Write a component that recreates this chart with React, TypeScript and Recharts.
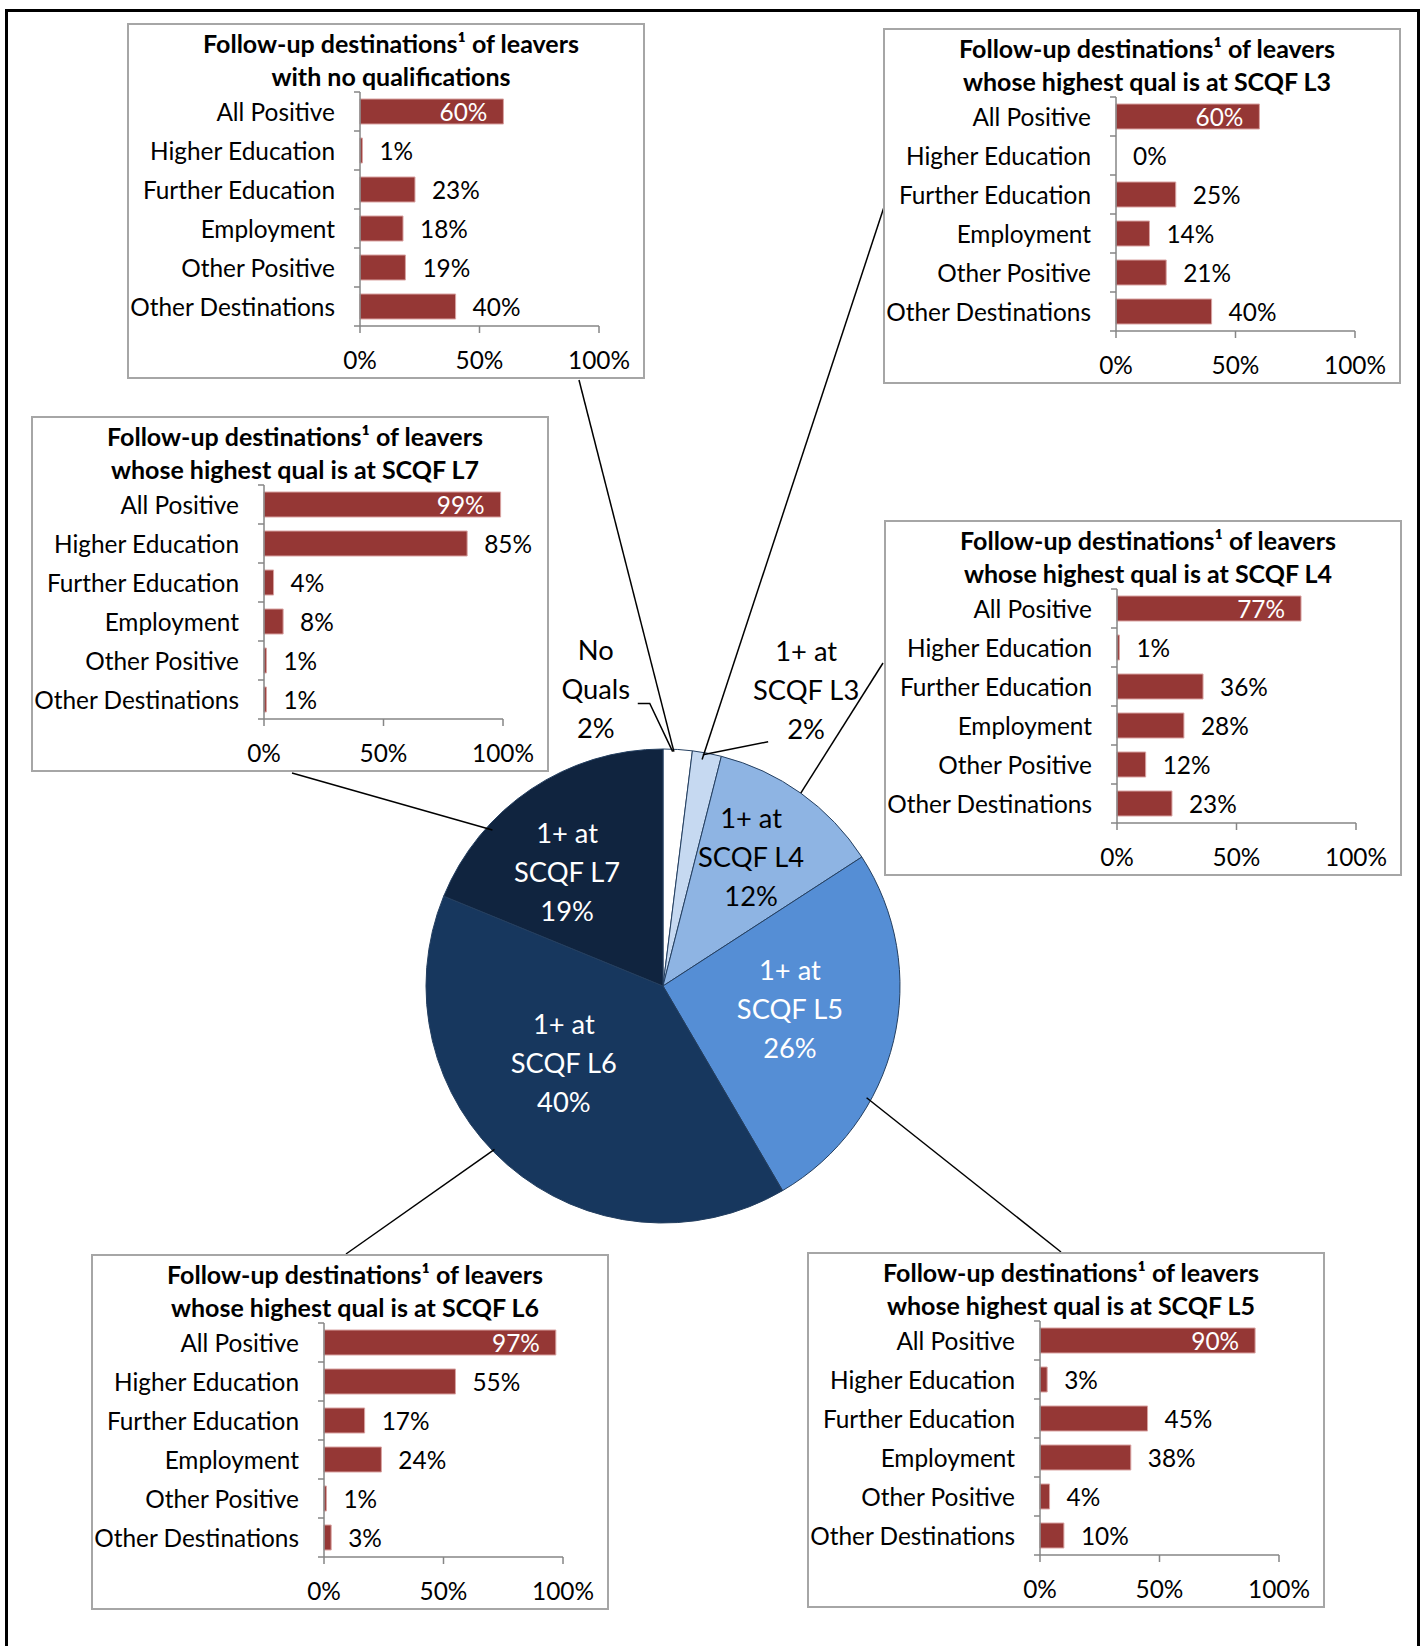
import React from "react";
import { BarChart, Bar, XAxis, YAxis, LabelList, PieChart, Pie, Cell } from "recharts";

// ---- data ----
const categories = [
  "All Positive",
  "Higher Education",
  "Further Education",
  "Employment",
  "Other Positive",
  "Other Destinations",
];

const noQualsValues = [60, 1, 23, 18, 19, 40];
const l3Values = [60, 0, 25, 14, 21, 40];
const l4Values = [77, 1, 36, 28, 12, 23];
const l5Values = [90, 3, 45, 38, 4, 10];
const l6Values = [97, 55, 17, 24, 1, 3];
const l7Values = [99, 85, 4, 8, 1, 1];

const xTicks = [0, 50, 100];

const titleLine1 = "Follow-up destinations\u00b9 of leavers";
const subtitles = {
  nq: "with no qualifications",
  l3: "whose highest qual is at SCQF L3",
  l4: "whose highest qual is at SCQF L4",
  l5: "whose highest qual is at SCQF L5",
  l6: "whose highest qual is at SCQF L6",
  l7: "whose highest qual is at SCQF L7",
};

const pieNames = ["No Quals", "1+ at SCQF L3", "1+ at SCQF L4", "1+ at SCQF L5", "1+ at SCQF L6", "1+ at SCQF L7"];
const pieLabelLines = [["No", "Quals"], ["1+ at", "SCQF L3"], ["1+ at", "SCQF L4"], ["1+ at", "SCQF L5"], ["1+ at", "SCQF L6"], ["1+ at", "SCQF L7"]];
const pieValues = [2, 2, 12, 26, 40, 19];
const pieColors = ["#ffffff", "#c6d9f1", "#8eb4e3", "#558ed5", "#17375e", "#10243f"];

// ---- layout ----
const FONT = "Lato, 'Open Sans', sans-serif";
const BOX_W = 518;
const BOX_H = 356;
const PLOT_TOP = 69;
const PLOT_BOTTOM = 303;
const AXIS_LEFT = 233;
const PLOT_RIGHT = 472;
const BAND = (PLOT_BOTTOM - PLOT_TOP) / categories.length;
const LABEL_SIZE = 24.4;
const PIE_FONT = 27.3;

const boxes = [
  { key: "nq", left: 127, top: 23, values: noQualsValues },
  { key: "l3", left: 883, top: 28, values: l3Values },
  { key: "l7", left: 31, top: 416, values: l7Values },
  { key: "l4", left: 884, top: 520, values: l4Values },
  { key: "l6", left: 91, top: 1254, values: l6Values },
  { key: "l5", left: 807, top: 1252, values: l5Values },
];

// label/connector placement per slice, relative to the slice mid angle
const pieLayout = [
  { color: "#000", labelDA: -16.3, labelRF: 305 / 237, connDA: -0.9, connRF: 0.99, box: [579, 380], leader: [[42, 15], [54, 15]], leaderDA: -1.2 },
  { color: "#000", labelDA: 15.1, labelRF: 329 / 237, connDA: -0.9, connRF: 0.97, box: [884, 207], leader: [[-38, 52]], leaderDA: -0.9 },
  { color: "#000", labelDA: -1.5, labelRF: 157 / 237, connDA: -0.1, connRF: 1.0, box: [883, 663] },
  { color: "#fff", labelDA: -3.1, labelRF: 129 / 237, connDA: 15.4, connRF: 0.98, box: [1061, 1252] },
  { color: "#fff", labelDA: 11.5, labelRF: 125 / 237, connDA: 4.9, connRF: 0.99, box: [346, 1254] },
  { color: "#fff", labelDA: -6.2, labelRF: 149 / 237, connDA: -13.7, connRF: 0.975, box: [292, 773] },
];

const rad = (d: number) => (d * Math.PI) / 180;

function CategoryTick(props: any) {
  const { x, y, payload, index } = props;
  const ax = x + 25;
  return (
    <g>
      <text x={x} y={y} textAnchor="end" dominantBaseline="central" fontSize={LABEL_SIZE} fontFamily={FONT} fill="#000">
        {payload.value}
      </text>
      <line x1={ax - 6} x2={ax} y1={y - BAND / 2} y2={y - BAND / 2} stroke="#868686" strokeWidth={1.5} />
      {index === categories.length - 1 && (
        <line x1={ax - 6} x2={ax} y1={y + BAND / 2} y2={y + BAND / 2} stroke="#868686" strokeWidth={1.5} />
      )}
    </g>
  );
}

function ValueLabel(props: any) {
  const { x, y, width, height, value, index } = props;
  const inside = index === 0;
  const w = value === 0 ? 0 : Number(width);
  return (
    <text
      x={inside ? x + w - 16 : x + w + 17}
      y={y + height / 2}
      textAnchor={inside ? "end" : "start"}
      dominantBaseline="central"
      fontSize={LABEL_SIZE}
      fontFamily={FONT}
      fill={inside ? "#fff" : "#000"}
    >
      {`${value}%`}
    </text>
  );
}

function DestinationBox({ left, top, values, subtitle }: any) {
  const data = categories.map((name, i) => ({ name, value: values[i] }));
  return (
    <div style={{ position: "absolute", left, top, width: BOX_W, height: BOX_H, background: "#fff" }}>
      <div style={{ position: "absolute", inset: 0, border: "2px solid #a6a6a6", boxSizing: "border-box" }} />
      <div
        style={{
          position: "absolute",
          left: 5,
          top: 4,
          width: BOX_W,
          textAlign: "center",
          fontFamily: FONT,
          fontWeight: 700,
          fontSize: 25,
          lineHeight: "33px",
          color: "#000",
        }}
      >
        <div>{titleLine1}</div>
        <div>{subtitle}</div>
      </div>
      <div style={{ position: "absolute", left: 0, top: 0 }}>
        <BarChart
          width={BOX_W}
          height={BOX_H}
          data={data}
          layout="vertical"
          margin={{ top: PLOT_TOP, right: BOX_W - PLOT_RIGHT, bottom: 13, left: 0 }}
        >
          <XAxis
            type="number"
            domain={[0, 100]}
            ticks={xTicks}
            tickFormatter={(v) => `${v}%`}
            axisLine={{ stroke: "#868686", strokeWidth: 1.5 }}
            tickLine={{ stroke: "#868686", strokeWidth: 1.5 }}
            tickSize={7}
            tickMargin={19}
            height={BOX_H - PLOT_BOTTOM - 13}
            tick={{ fontSize: LABEL_SIZE, fontFamily: FONT, fill: "#000" }}
            interval={0}
          />
          <YAxis
            type="category"
            dataKey="name"
            width={AXIS_LEFT}
            axisLine={{ stroke: "#868686", strokeWidth: 1.5 }}
            tickLine={false}
            tickSize={0}
            tickMargin={25}
            interval={0}
            tick={(p: any) => <CategoryTick {...p} />}
          />
          <Bar dataKey="value" fill="#953735" strokeWidth={1} barSize={25} minPointSize={0.01} isAnimationActive={false}>
            {data.map((d) => (
              <Cell key={d.name} fill="#953735" stroke={d.value === 0 ? "none" : "#d9a3a2"} />
            ))}
            <LabelList dataKey="value" content={(p: any) => <ValueLabel {...p} />} />
          </Bar>
        </BarChart>
      </div>
    </div>
  );
}

function renderPieLabel(props: any) {
  const cx = Number(props.cx);
  const cy = Number(props.cy);
  const R = Number(props.outerRadius);
  const index = props.index;
  const lay = pieLayout[index];
  const mid = 90 - Number(props.midAngle);
  const polar = (deg: number, r: number) => [cx + r * Math.sin(rad(deg)), cy - r * Math.cos(rad(deg))];
  const [lx, ly] = polar(mid + lay.labelDA, R * lay.labelRF);
  const [ex, ey] = polar(mid + lay.connDA, R * lay.connRF);
  const lines = [...pieLabelLines[index], `${pieValues[index]}%`];
  let leaderPts = "";
  if (lay.leader) {
    const pts = lay.leader.map(([dx, dy]) => `${lx + dx},${ly + dy}`);
    const [qx, qy] = polar(mid + lay.leaderDA, R * 0.99);
    leaderPts = [...pts, `${qx},${qy}`].join(" ");
  }
  return (
    <g key={`pie-label-${index}`}>
      <line x1={lay.box[0]} y1={lay.box[1]} x2={ex} y2={ey} stroke="#000" strokeWidth={1.5} />
      {leaderPts && <polyline points={leaderPts} fill="none" stroke="#000" strokeWidth={1.5} />}
      {lines.map((t, i) => (
        <text
          key={i}
          x={lx}
          y={ly + (i - 1) * 39}
          textAnchor="middle"
          dominantBaseline="central"
          fontSize={PIE_FONT}
          fontFamily={FONT}
          fill={lay.color}
        >
          {t}
        </text>
      ))}
    </g>
  );
}

export default function App() {
  const pieData = pieNames.map((name, i) => ({ name, value: pieValues[i] }));
  return (
    <div style={{ position: "absolute", left: 0, top: 0, width: 1427, height: 1646, overflow: "hidden", background: "#fff" }}>
      <div style={{ position: "absolute", left: 0, top: 0 }}>
        <PieChart width={1427} height={1646} margin={{ top: 0, right: 0, bottom: 0, left: 0 }}>
          <Pie
            data={pieData}
            dataKey="value"
            nameKey="name"
            cx={663}
            cy={986}
            outerRadius={237}
            startAngle={90}
            endAngle={-270}
            stroke="#243f60"
            strokeWidth={1}
            label={renderPieLabel}
            labelLine={false}
            isAnimationActive={false}
          >
            {pieData.map((d, i) => (
              <Cell key={d.name} fill={pieColors[i]} />
            ))}
          </Pie>
        </PieChart>
      </div>
      {boxes.map((b) => (
        <DestinationBox key={b.key} left={b.left} top={b.top} values={b.values} subtitle={(subtitles as any)[b.key]} />
      ))}
      <div
        style={{
          position: "absolute",
          left: 5,
          top: 9,
          width: 1415,
          height: 1700,
          border: "3px solid #000",
          boxSizing: "border-box",
          pointerEvents: "none",
        }}
      />
    </div>
  );
}
